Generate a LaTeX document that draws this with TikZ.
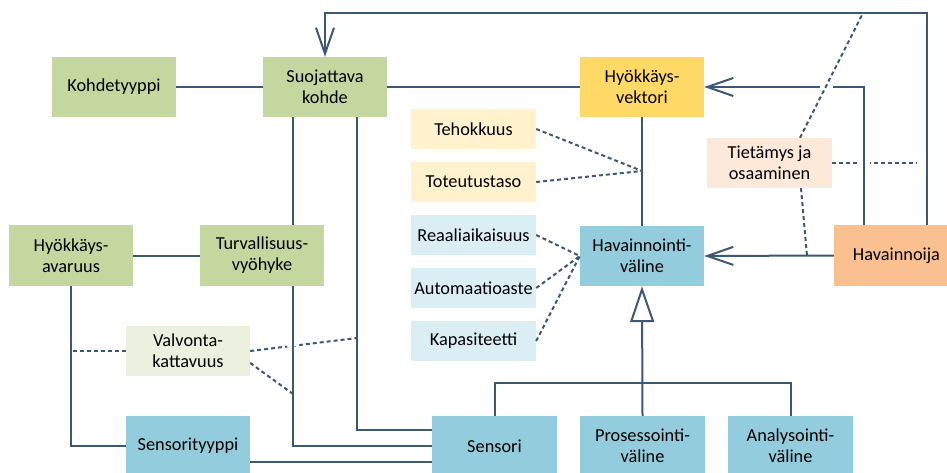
\documentclass[tikz,border=0pt]{standalone}
\usepackage{fontspec}
\setmainfont{Carlito}
\usetikzlibrary{arrows.meta,calc}
\definecolor{linec}{HTML}{3B5877}
\definecolor{greenbox}{HTML}{C4D79F}
\definecolor{greenlt}{HTML}{EBF1DE}
\definecolor{goldbox}{HTML}{FFD966}
\definecolor{goldlt}{HTML}{FFF2CC}
\definecolor{bluebox}{HTML}{93CDDD}
\definecolor{bluelt}{HTML}{DBEEF4}
\definecolor{peachlt}{HTML}{FDE9D9}
\definecolor{orangebox}{HTML}{FAC090}
\begin{document}
\begin{tikzpicture}[x=1pt,y=-1pt,
  box/.style={rectangle, inner sep=0pt, minimum width=124pt, minimum height=60pt,
    align=center, font=\fontsize{18.3}{21}\selectfont, text=black},
  attr/.style={box, minimum width=125pt, minimum height=40pt},
  conn/.style={draw=linec, line width=2pt},
  dotc/.style={draw=linec, line width=2pt, dash pattern=on 4pt off 3pt},
  opn/.style={-{Straight Barb[length=26pt 0 0, width=18pt 0 0]}},
  gen/.style={-{Triangle[open, length=36pt 0 0, width=24pt 0 0]}},
  jump/.style={draw=white, line width=5pt},
]
\useasboundingbox (0,0) rectangle (947,473);
\clip (0,0) rectangle (947,473);

% entity boxes
\node[box, fill=greenbox] (kt) at (114,87) {Kohdetyyppi};
\node[box, fill=greenbox] (sk) at (325,87) {Suojattava\\kohde};
\node[box, fill=goldbox] (hv) at (642,87) {Hyökkäys-\\vektori};
\node[box, fill=bluebox] (hav) at (642,256) {Havainnointi-\\väline};
\node[box, fill=orangebox, minimum width=125pt, minimum height=61pt] (hn) at (896.5,255.5) {Havainnoija};
\node[box, fill=greenbox, minimum height=61pt] (ha) at (71,255.5) {Hyökkäys-\\avaruus};
\node[box, fill=greenbox, minimum height=61pt] (tv) at (262,255.5) {Turvallisuus-\\vyöhyke};
\node[box, fill=bluebox] (st) at (188,446) {Sensorityyppi};
\node[box, fill=bluebox, minimum width=125pt] (sen) at (494.5,446) {Sensori};
\node[box, fill=bluebox, minimum width=125pt] (pro) at (642.5,446) {Prosessointi-\\väline};
\node[box, fill=bluebox, minimum width=125pt] (ana) at (790.5,446) {Analysointi-\\väline};

% attribute boxes
\node[attr, fill=goldlt] (teh) at (473.5,129) {Tehokkuus};
\node[attr, fill=goldlt] (tot) at (473.5,182) {Toteutustaso};
\node[attr, fill=bluelt] (rea) at (473.5,235) {Reaaliaikaisuus};
\node[attr, fill=bluelt] (aut) at (473.5,288) {Automaatioaste};
\node[attr, fill=bluelt] (kap) at (473.5,341) {Kapasiteetti};
\node[attr, fill=peachlt, minimum height=50pt] (tie) at (769.5,163) {Tietämys ja\\osaaminen};
\node[attr, fill=greenlt, minimum width=124pt, minimum height=50pt] (vk) at (188,351) {Valvonta-\\kattavuus};

% junction points
\coordinate (topjoin) at (863,13);
\coordinate (hnjoin) at (807,256);
\coordinate (tieend) at (917,163);
\coordinate (vecjoin) at (642,171);
\coordinate (skjoin) at (357,338);
\coordinate (tvjoin) at (293,394);

% dotted links drawn first, solid lines pass over their gaps
\draw[dotc] (tie.east) -- (tieend);
\draw[dotc] (vk.east) -- (skjoin);
\draw[jump] (857,163) -- (870,163);
\draw[jump] (287,344.5) -- (299,343);

% solid associations
\draw[conn] (kt.east) -- (sk.west);
\draw[conn] (sk.east) -- (hv.west);
\draw[conn] (hv.south) -- (hav.north);
\draw[conn] (ha.east) -- (tv.west);
\draw[conn] ([xshift=-32pt]sk.south) -- ([xshift=-32pt]sk.south |- tv.north);
\draw[conn] ([xshift=31pt]tv.south) |- (sen.west);
\draw[conn] ([xshift=32pt]sk.south) |- ([yshift=16pt]sen.west);
\draw[conn] ([yshift=-16pt]st.east) -- ([yshift=-16pt]sen.west);
\draw[conn] (ha.south) |- (st.west);

% directed associations from the observer
\draw[conn, opn] ([xshift=30.5pt]hn.north) |- ($(sk.north)+(0,-44)$) -- (sk.north);
\draw[conn, opn] ([xshift=-32.5pt]hn.north) |- (hv.east);
\draw[conn, opn] (hn.west) -- (hav.east);
\draw[jump] (820,87) -- (833,87);

% generalization
\draw[conn] (sen.north) -- ++(0,-33) -| (ana.north);
\draw[conn, gen] (pro.north) -- (hav.south);

% remaining dotted links
\draw[dotc] ([xshift=30.5pt]tie.north) -- (topjoin);
\draw[dotc] ([xshift=31.5pt]tie.south) -- (hnjoin);
\draw[dotc] (teh.east) -- (vecjoin);
\draw[dotc] (tot.east) -- (vecjoin);
\draw[dotc] (rea.east) -- (hav.west);
\draw[dotc] (aut.east) -- (hav.west);
\draw[dotc] (kap.east) -- (hav.west);
\draw[dotc] (vk.west) -- (vk.west -| ha.south);
\draw[dotc] ([yshift=-12pt]vk.east) -- (tvjoin);
\end{tikzpicture}
\end{document}
